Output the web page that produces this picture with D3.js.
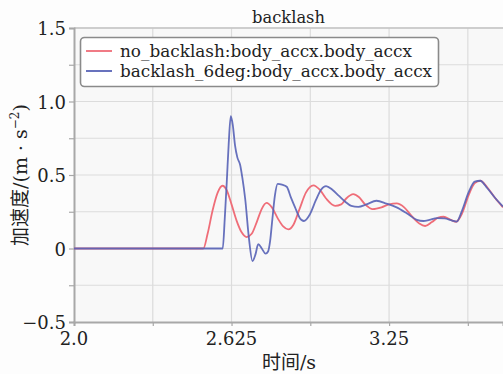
<!DOCTYPE html>
<html>
<head>
<meta charset="utf-8">
<script src="https://cdn.jsdelivr.net/npm/d3@7"></script>
<style>
  html, body { margin: 0; padding: 0; background: #fdfdfd; }
  svg { display: block; }
</style>
</head>
<body>
<svg id="chart" width="503" height="374"></svg>
<script>
// Series: time (s) and body x acceleration (m/s^2)
const noBacklashT = [2.0, 2.5, 2.513, 2.53, 2.55, 2.57, 2.589, 2.605, 2.625, 2.645, 2.665, 2.685, 2.705, 2.725, 2.745, 2.764, 2.785, 2.81, 2.83, 2.85, 2.87, 2.895, 2.92, 2.95, 2.975, 3.0, 3.036, 3.06, 3.08, 3.108, 3.13, 3.155, 3.185, 3.22, 3.25, 3.28, 3.31, 3.34, 3.37, 3.393, 3.42, 3.445, 3.466, 3.495, 3.516, 3.54, 3.565, 3.59, 3.612, 3.64, 3.67, 3.702];
const noBacklashV = [0, 0, 0, 0.10, 0.26, 0.38, 0.427, 0.40, 0.30, 0.19, 0.11, 0.078, 0.10, 0.18, 0.27, 0.31, 0.28, 0.20, 0.15, 0.13, 0.16, 0.27, 0.38, 0.43, 0.40, 0.34, 0.29, 0.30, 0.34, 0.37, 0.35, 0.30, 0.268, 0.28, 0.30, 0.307, 0.28, 0.22, 0.17, 0.153, 0.18, 0.21, 0.216, 0.195, 0.182, 0.24, 0.36, 0.445, 0.461, 0.415, 0.345, 0.28];

const backlashT = [2.0, 2.59, 2.598, 2.606, 2.614, 2.622, 2.630, 2.639, 2.648, 2.659, 2.668, 2.679, 2.694, 2.708, 2.72, 2.731, 2.745, 2.76, 2.77, 2.778, 2.787, 2.797, 2.808, 2.825, 2.844, 2.86, 2.877, 2.895, 2.912, 2.935, 2.96, 2.98, 3.0, 3.025, 3.05, 3.075, 3.10, 3.128, 3.16, 3.20, 3.24, 3.28, 3.32, 3.36, 3.386, 3.41, 3.44, 3.47, 3.50, 3.518, 3.54, 3.565, 3.59, 3.611, 3.64, 3.67, 3.702];
const backlashV = [0, 0, 0.2, 0.45, 0.72, 0.90, 0.84, 0.70, 0.62, 0.57, 0.48, 0.34, 0.07, -0.085, -0.04, 0.03, 0.0, -0.035, -0.02, 0.05, 0.20, 0.36, 0.44, 0.435, 0.42, 0.35, 0.28, 0.21, 0.187, 0.23, 0.33, 0.40, 0.425, 0.40, 0.36, 0.32, 0.29, 0.283, 0.30, 0.325, 0.305, 0.28, 0.24, 0.195, 0.187, 0.195, 0.207, 0.205, 0.19, 0.183, 0.26, 0.38, 0.455, 0.461, 0.41, 0.345, 0.285];

const seriesNames = ["no_backlash:body_accx.body_accx", "backlash_6deg:body_accx.body_accx"];
const seriesColors = ["#ef6d78", "#5762b6"];

const xTickValues = [2.0, 2.625, 3.25];
const xTickLabels = ["2.0", "2.625", "3.25"];
const xGridValues = [2.3125, 2.625, 2.9375, 3.25, 3.5625];
const yTickValues = [-0.5, 0, 0.5, 1.0, 1.5];
const yTickLabels = ["\u22120.5", "0", "0.5", "1.0", "1.5"];
const yGridValues = [-0.25, 0, 0.25, 0.5, 0.75, 1.0, 1.25, 1.5];

const titleText = "backlash";
const xTitle = "时间/s";

const SERIF = "'DejaVu Serif', 'Noto Sans CJK SC'";

const svg = d3.select("#chart");
const W = 503, H = 374;
const m = { left: 74, top: 28, right: 0, bottom: 52 };

const x = d3.scaleLinear().domain([2.0, 3.702]).range([m.left, W - m.right]);
const y = d3.scaleLinear().domain([-0.5, 1.5]).range([H - m.bottom, m.top]);

// plot background
svg.append("rect")
  .attr("x", m.left).attr("y", m.top)
  .attr("width", W - m.right - m.left).attr("height", H - m.bottom - m.top)
  .attr("fill", "#f8f8f8");

// grid
const grid = svg.append("g").attr("stroke", "#dcdcdc").attr("stroke-width", 1.2);
grid.selectAll("line.v").data(xGridValues).join("line")
  .attr("x1", d => x(d)).attr("x2", d => x(d))
  .attr("y1", m.top).attr("y2", H - m.bottom);
grid.selectAll("line.h").data(yGridValues).join("line")
  .attr("x1", m.left).attr("x2", W - m.right)
  .attr("y1", d => y(d)).attr("y2", d => y(d));
svg.append("line")
  .attr("x1", m.left).attr("x2", W).attr("y1", m.top).attr("y2", m.top)
  .attr("stroke", "#c4c4c4").attr("stroke-width", 1.3);

// axes
const xAxis = d3.axisBottom(x).tickValues(xGridValues.concat([2.0])).tickSize(4).tickFormat(() => "");
const yAxis = d3.axisLeft(y).tickValues(yGridValues.concat([-0.5])).tickSize(5).tickFormat(() => "");
const gx = svg.append("g").attr("transform", `translate(0,${H - m.bottom})`).call(xAxis);
const gy = svg.append("g").attr("transform", `translate(${m.left},0)`).call(yAxis);
[gx, gy].forEach(g => {
  g.select(".domain").attr("stroke", "#a8a8a8").attr("stroke-width", 2);
  g.selectAll(".tick line").attr("stroke", "#a8a8a8").attr("stroke-width", 1.2);
});

// tick labels
svg.append("g").selectAll("text").data(xTickValues).join("text")
  .attr("x", d => x(d)).attr("y", H - m.bottom + 23)
  .attr("text-anchor", "middle").attr("font-size", 18)
  .style("font-family", SERIF).attr("fill", "#222")
  .text((d, i) => xTickLabels[i]);
svg.append("g").selectAll("text").data(yTickValues).join("text")
  .attr("x", m.left - 8).attr("y", d => y(d) + 7)
  .attr("text-anchor", "end").attr("font-size", 18)
  .style("font-family", SERIF).attr("fill", "#222")
  .text((d, i) => yTickLabels[i]);

// curves
const line = d3.line().x(d => x(d[0])).y(d => y(d[1])).curve(d3.curveMonotoneX);
const series = [d3.zip(noBacklashT, noBacklashV), d3.zip(backlashT, backlashV)];
const plot = svg.append("g");
series.forEach((s, i) => {
  plot.append("path").datum(s)
    .attr("d", line)
    .attr("fill", "none")
    .attr("stroke", seriesColors[i])
    .attr("stroke-width", 1.8)
    .attr("stroke-opacity", i === 1 ? 0.9 : 1)
    .attr("stroke-linejoin", "round");
});

// title and axis titles
svg.append("text").attr("x", 288.5).attr("y", 23)
  .attr("text-anchor", "middle").attr("font-size", 17)
  .style("font-family", SERIF).attr("fill", "#222")
  .attr("textLength", 73).attr("lengthAdjust", "spacingAndGlyphs")
  .text(titleText);
svg.append("text").attr("x", 289).attr("y", 369)
  .attr("text-anchor", "middle").attr("font-size", 19)
  .style("font-family", SERIF).attr("fill", "#222")
  .text(xTitle);
const yt = svg.append("text")
  .attr("transform", "translate(27,175) rotate(-90)")
  .attr("text-anchor", "middle").attr("font-size", 19)
  .style("font-family", SERIF).attr("fill", "#222");
yt.append("tspan").text("加速度/(m · s");
yt.append("tspan").attr("font-size", 12).attr("dy", -8).text("\u22122");
yt.append("tspan").attr("dy", 8).text(")");

// legend
const lg = svg.append("g");
lg.append("rect")
  .attr("x", 80.5).attr("y", 37.5).attr("width", 358).attr("height", 49).attr("rx", 4)
  .attr("fill", "#ffffff").attr("stroke", "#8a8a8a").attr("stroke-width", 1.6);
const legendWidths = [292, 312];
seriesNames.forEach((name, i) => {
  const cy = 51 + i * 20;
  lg.append("line").attr("x1", 86).attr("x2", 112).attr("y1", cy).attr("y2", cy)
    .attr("stroke", seriesColors[i]).attr("stroke-width", 1.8);
  lg.append("text").attr("x", 120).attr("y", cy + 5.5)
    .attr("font-size", 16)
    .style("font-family", SERIF).attr("fill", "#222")
    .attr("textLength", legendWidths[i]).attr("lengthAdjust", "spacingAndGlyphs")
    .text(name);
});
</script>
</body>
</html>
